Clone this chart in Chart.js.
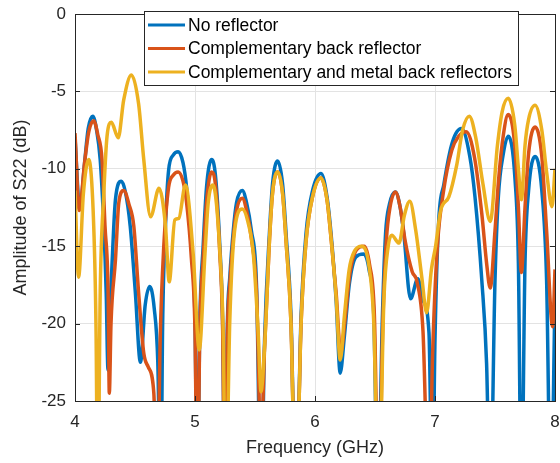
<!DOCTYPE html>
<html>
<head>
<meta charset="utf-8">
<script src="https://cdn.jsdelivr.net/npm/chart.js@4.4.1/dist/chart.umd.min.js"></script>
<style>
  body { margin: 0; background: #fff; }
  canvas { display: block; }
</style>
</head>
<body>
<canvas id="s22Chart" width="560" height="463"></canvas>
<script>
// Series labels
const seriesNames = ['No reflector', 'Complementary back reflector', 'Complementary and metal back reflectors'];

// Tick values
const xTicks = [4, 5, 6, 7, 8];
const yTicks = [0, -5, -10, -15, -20, -25];

// No reflector (GHz / dB)
const blueFreq = [4.00, 4.04, 4.08, 4.11, 4.148, 4.18, 4.21, 4.24, 4.26, 4.275, 4.29, 4.31, 4.337, 4.386, 4.42, 4.46, 4.503, 4.545, 4.585, 4.623, 4.66, 4.69, 4.715, 4.73, 4.754, 4.78, 4.82, 4.86, 4.90, 4.93, 4.97, 5.00, 5.02, 5.04, 5.068, 5.096, 5.138, 5.17, 5.207, 5.23, 5.25, 5.27, 5.29, 5.319, 5.346, 5.394, 5.43, 5.47, 5.513, 5.55, 5.58, 5.62, 5.647, 5.689, 5.73, 5.759, 5.80, 5.84, 5.884, 5.925, 5.98, 6.05, 6.10, 6.134, 6.176, 6.21, 6.245, 6.287, 6.34, 6.406, 6.45, 6.49, 6.525, 6.56, 6.588, 6.62, 6.67, 6.71, 6.74, 6.796, 6.857, 6.90, 6.95, 6.978, 7.00, 7.03, 7.074, 7.144, 7.22, 7.29, 7.333, 7.39, 7.43, 7.46, 7.50, 7.528, 7.57, 7.61, 7.667, 7.695, 7.72, 7.75, 7.78, 7.834, 7.89, 7.93, 7.965, 8.00];
const blueS22 = [-8.0, -12.6, -9.6, -7.4, -6.6, -7.5, -9.4, -13.7, -18.0, -23.0, -19.5, -15.9, -12.0, -10.8, -11.5, -13.7, -18.0, -22.5, -18.8, -17.6, -19.0, -22.5, -32, -20.2, -13.7, -10.1, -9.1, -8.9, -9.6, -11.2, -15.0, -19.8, -32, -20, -15.0, -11.2, -9.4, -10.4, -15.0, -19.8, -32, -20, -17.0, -14.0, -12.2, -11.4, -12.2, -14.0, -17.6, -32, -21, -14.2, -10.9, -9.5, -11.0, -14.2, -19.5, -32, -19.5, -14.2, -11.4, -10.3, -11.8, -14.2, -18.5, -23.2, -20.8, -17.4, -15.7, -15.5, -16.5, -19.5, -32, -20, -14.2, -12.3, -11.5, -12.5, -14.2, -18.4, -17.1, -18.5, -20.6, -32, -21, -13.5, -11.0, -8.3, -7.4, -9.2, -11.8, -17.2, -22.6, -32, -17.2, -11.8, -9.0, -7.9, -10.7, -16.1, -32, -16.1, -11.4, -9.2, -11.4, -17.2, -32, -18.3];

// Complementary back reflector
const redFreq = [4.00, 4.036, 4.08, 4.115, 4.156, 4.19, 4.225, 4.25, 4.276, 4.286, 4.30, 4.337, 4.365, 4.406, 4.45, 4.49, 4.53, 4.573, 4.61, 4.657, 4.685, 4.71, 4.74, 4.78, 4.82, 4.86, 4.90, 4.93, 4.97, 5.00, 5.02, 5.04, 5.068, 5.096, 5.138, 5.17, 5.207, 5.23, 5.25, 5.27, 5.29, 5.319, 5.346, 5.394, 5.43, 5.47, 5.513, 5.55, 5.58, 5.62, 5.647, 5.689, 5.73, 5.759, 5.80, 5.84, 5.884, 5.925, 5.98, 6.05, 6.10, 6.134, 6.176, 6.215, 6.25, 6.29, 6.34, 6.41, 6.455, 6.495, 6.53, 6.565, 6.595, 6.625, 6.67, 6.71, 6.75, 6.81, 6.85, 6.90, 6.95, 6.98, 7.02, 7.07, 7.14, 7.197, 7.26, 7.33, 7.39, 7.43, 7.46, 7.50, 7.53, 7.57, 7.61, 7.665, 7.695, 7.72, 7.75, 7.78, 7.834, 7.89, 7.93, 7.98, 8.00];
const redS22 = [-7.7, -12.7, -9.6, -7.6, -6.9, -7.8, -9.4, -13.7, -18.0, -24.5, -20, -15.9, -12.2, -11.4, -12.3, -13.7, -18.0, -21.9, -22.8, -24.5, -32, -21, -15, -11.2, -10.4, -10.2, -10.8, -12.2, -15.8, -20.5, -32, -20.5, -15.8, -12.2, -10.2, -11.0, -15.5, -20.2, -32, -20.5, -17.5, -14.5, -12.7, -11.9, -12.7, -14.5, -18.0, -28, -21.5, -14.7, -11.5, -10.2, -11.6, -14.7, -20, -32, -20, -14.7, -11.8, -10.6, -12.0, -14.5, -18.0, -21.9, -19.8, -16.8, -15.3, -15.0, -16.2, -19.5, -32, -20, -14.6, -12.5, -11.5, -12.5, -14.6, -16.65, -17.3, -20.5, -32, -22, -15, -11.5, -8.8, -7.9, -7.6, -9.3, -12.9, -16.1, -17.7, -14, -10.7, -7.8, -6.5, -8.5, -12.5, -16.7, -12.5, -9.0, -7.3, -9.2, -14, -20.2, -16.5];

// Complementary and metal back reflectors
const yellowFreq = [4.00, 4.03, 4.07, 4.114, 4.156, 4.175, 4.19, 4.21, 4.24, 4.267, 4.303, 4.36, 4.406, 4.47, 4.53, 4.573, 4.63, 4.70, 4.754, 4.785, 4.832, 4.865, 4.92, 4.985, 5.035, 5.083, 5.11, 5.15, 5.208, 5.236, 5.255, 5.29, 5.33, 5.394, 5.44, 5.486, 5.528, 5.55, 5.58, 5.62, 5.647, 5.689, 5.73, 5.759, 5.80, 5.84, 5.884, 5.925, 5.98, 6.05, 6.10, 6.134, 6.176, 6.21, 6.245, 6.285, 6.33, 6.39, 6.45, 6.49, 6.53, 6.574, 6.61, 6.64, 6.70, 6.745, 6.79, 6.84, 6.89, 6.93, 6.97, 7.005, 7.047, 7.116, 7.18, 7.23, 7.286, 7.34, 7.40, 7.46, 7.52, 7.56, 7.61, 7.665, 7.695, 7.72, 7.75, 7.78, 7.834, 7.89, 7.93, 7.975, 8.00];
const yellowS22 = [-11.4, -17.0, -11.6, -9.4, -13.7, -20.2, -32, -18.0, -11.6, -7.9, -7.0, -8.0, -5.55, -3.94, -5.8, -9.4, -13.1, -11.26, -13.7, -17.3, -13.3, -13.2, -11.05, -15.5, -21.7, -15.5, -12.2, -11.05, -15.5, -21, -32, -19.8, -14.0, -12.6, -13.4, -15.5, -20.8, -24.4, -21.5, -14.7, -11.5, -10.2, -11.6, -14.7, -20, -32, -20, -14.7, -11.8, -10.6, -12.0, -14.5, -18.3, -22.35, -19.5, -16.5, -15.3, -15.0, -16.3, -20, -32, -18.5, -15, -14.3, -14.8, -13, -12.1, -14, -17, -19.3, -16.5, -15.0, -12.7, -11.8, -9.8, -7.5, -6.6, -8.0, -11, -13.4, -8.5, -6.3, -5.45, -7.2, -10, -12.0, -8.5, -6.8, -5.9, -7.5, -10.2, -12.45, -10.0];

const seriesColors = ['#0072BD', '#D95319', '#EDB120'];
const axisColor = '#262626';
const fontFamily = '"Liberation Sans", Arial, Helvetica, sans-serif';

function toPoints(freq, vals) {
    return freq.map((f, i) => ({ x: f, y: vals[i] }));
}

// Box around the axes, inward ticks and a framed legend (MATLAB look)
const matlabFrame = {
    id: 'matlabFrame',
    afterDraw(chart) {
        const { ctx, chartArea: a, scales } = chart;
        ctx.save();
        ctx.strokeStyle = axisColor;
        ctx.lineWidth = 1;
        ctx.beginPath();
        xTicks.forEach(v => {
            const px = Math.round(scales.x.getPixelForValue(v)) + 0.5;
            ctx.moveTo(px, a.bottom); ctx.lineTo(px, a.bottom - 5);
            ctx.moveTo(px, a.top); ctx.lineTo(px, a.top + 5);
        });
        yTicks.forEach(v => {
            const py = Math.round(scales.y.getPixelForValue(v)) + 0.5;
            ctx.moveTo(a.left, py); ctx.lineTo(a.left + 5, py);
            ctx.moveTo(a.right, py); ctx.lineTo(a.right - 5, py);
        });
        ctx.stroke();
        ctx.strokeRect(Math.round(a.left) + 0.5, Math.round(a.top) + 0.5,
            Math.round(a.right - a.left), Math.round(a.bottom - a.top));

        // legend
        const lx = a.left + 69, ly = a.top - 3, lw = 374, lh = 74;
        ctx.fillStyle = '#fff';
        ctx.fillRect(lx, ly, lw, lh);
        ctx.strokeStyle = axisColor;
        ctx.strokeRect(lx + 0.5, ly + 0.5, lw, lh);
        ctx.font = '17.5px ' + fontFamily;
        ctx.textBaseline = 'middle';
        ctx.textAlign = 'left';
        chart.data.datasets.forEach((ds, i) => {
            const cy = ly + 14 + i * 23.5;
            ctx.strokeStyle = ds.borderColor;
            ctx.lineWidth = 3;
            ctx.beginPath();
            ctx.moveTo(lx + 4, cy); ctx.lineTo(lx + 41, cy);
            ctx.stroke();
            ctx.fillStyle = '#000';
            ctx.fillText(ds.label, lx + 44, cy + 1);
        });
        ctx.restore();
    }
};

const ctx = document.getElementById('s22Chart').getContext('2d');

const s22Chart = new Chart(ctx, {
    type: 'line',
    data: {
        datasets: [
            { label: seriesNames[0], data: toPoints(blueFreq, blueS22), borderColor: seriesColors[0], order: 2 },
            { label: seriesNames[1], data: toPoints(redFreq, redS22), borderColor: seriesColors[1], order: 1 },
            { label: seriesNames[2], data: toPoints(yellowFreq, yellowS22), borderColor: seriesColors[2], order: 0 }
        ]
    },
    options: {
        responsive: false,
        animation: false,
        layout: { padding: { top: 14, right: 5, left: 0, bottom: 0 } },
        elements: {
            line: { borderWidth: 3.5, cubicInterpolationMode: 'monotone', capBezierPoints: false, fill: false },
            point: { radius: 0 }
        },
        datasets: { line: { clip: 0 } },
        scales: {
            x: {
                type: 'linear',
                min: 4,
                max: 8,
                afterFit: s => { s.height = 62; s.paddingLeft = 0; s.paddingRight = 0; },
                afterBuildTicks: s => { s.ticks = xTicks.map(v => ({ value: v })); },
                grid: { color: '#e3e3e3', drawTicks: false },
                border: { display: false },
                ticks: { color: axisColor, padding: 11, font: { family: fontFamily, size: 17 } },
                title: {
                    display: true,
                    text: 'Frequency (GHz)',
                    color: axisColor,
                    font: { family: fontFamily, size: 18 },
                    padding: { top: 0, bottom: 4 }
                }
            },
            y: {
                min: -25,
                max: 0,
                afterFit: s => { s.width = 75; s.paddingTop = 0; s.paddingBottom = 0; },
                afterBuildTicks: s => { s.ticks = yTicks.map(v => ({ value: v })); },
                grid: { color: '#e3e3e3', drawTicks: false },
                border: { display: false },
                ticks: { color: axisColor, padding: 9, font: { family: fontFamily, size: 17 } },
                title: {
                    display: true,
                    text: 'Amplitude of S22 (dB)',
                    color: axisColor,
                    font: { family: fontFamily, size: 18 },
                    padding: { top: 10, bottom: 0 }
                }
            }
        },
        plugins: {
            legend: { display: false },
            tooltip: { enabled: false }
        }
    },
    plugins: [matlabFrame]
});
</script>
</body>
</html>
